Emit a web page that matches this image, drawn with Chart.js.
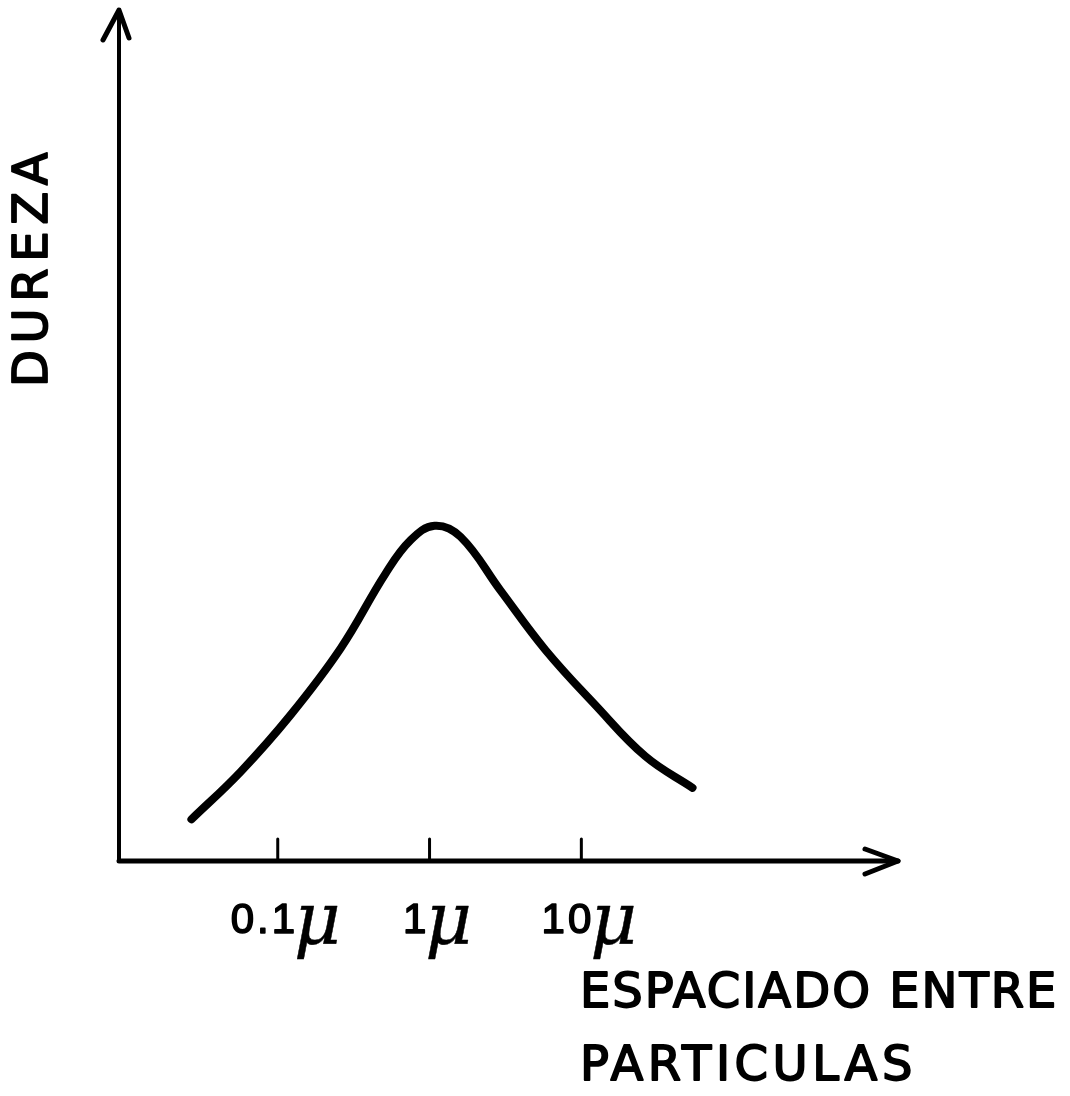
<!DOCTYPE html>
<html>
<head>
<meta charset="utf-8">
<script src="https://cdn.jsdelivr.net/npm/chart.js@4.4.1/dist/chart.umd.min.js"></script>
<style>
  body { margin: 0; background: #fff; }
  canvas { display: block; }
</style>
</head>
<body>
<canvas id="dureza" width="1070" height="1096"></canvas>
<script>
// espaciado entre particulas (micras) vs dureza (unidades arbitrarias)
var espaciado = [0.027, 0.057, 0.122, 0.26, 0.514, 0.75, 1.08, 1.6, 2.93, 5.8, 12.4, 26.4, 54];
var dureza = [4.9, 10.5, 17.2, 25.0, 33.8, 37.7, 39.4, 38.1, 31.8, 24.8, 18.3, 12.3, 8.6];
var tickValues = [0.1, 1, 10];
var tickLabels = ['0.1', '1', '10'];
var tickUnit = 'μ';
var yTitle = 'DUREZA';
var xTitle = ['ESPACIADO ENTRE', 'PARTICULAS'];

var puntos = espaciado.map(function (v, i) {
    return { x: v, y: dureza[i] };
});

function arrow(ctx, tipX, tipY, ax, ay, bx, by) {
    ctx.beginPath();
    ctx.moveTo(ax, ay);
    ctx.lineTo(tipX, tipY);
    ctx.lineTo(bx, by);
    ctx.stroke();
}

function heavyText(ctx, txt, x, y, spacing) {
    if ('letterSpacing' in ctx) ctx.letterSpacing = spacing + 'px';
    ctx.fillText(txt, x, y);
    ctx.strokeText(txt, x, y);
    if ('letterSpacing' in ctx) ctx.letterSpacing = '0px';
}

var handAxes = {
    id: 'handAxes',
    beforeDatasetsDraw: function (chart) {
        var ctx = chart.ctx;
        var area = chart.chartArea;
        var xs = chart.scales.x;
        ctx.save();
        ctx.strokeStyle = '#000';
        ctx.fillStyle = '#000';
        ctx.lineCap = 'round';
        ctx.lineJoin = 'round';

        // ejes
        ctx.lineWidth = 4;
        ctx.beginPath();
        ctx.moveTo(area.left, area.bottom);
        ctx.lineTo(area.left, area.top);
        ctx.stroke();
        ctx.lineWidth = 5;
        ctx.beginPath();
        ctx.moveTo(area.left, area.bottom);
        ctx.lineTo(area.right, area.bottom);
        ctx.stroke();

        // flechas
        ctx.lineWidth = 5;
        arrow(ctx, area.left, area.top, area.left - 16, area.top + 30, area.left + 10, area.top + 28);
        arrow(ctx, area.right, area.bottom, area.right - 33, area.bottom - 12, area.right - 33, area.bottom + 13);

        // marcas
        ctx.lineWidth = 3;
        tickValues.forEach(function (v) {
            var px = xs.getPixelForValue(v);
            ctx.beginPath();
            ctx.moveTo(px, area.bottom - 22);
            ctx.lineTo(px, area.bottom);
            ctx.stroke();
        });

        // etiquetas de las marcas
        ctx.textBaseline = 'alphabetic';
        ctx.textAlign = 'left';
        tickValues.forEach(function (v, i) {
            var numFont = '42px "Liberation Sans", Arial, sans-serif';
            var unitFont = 'italic 72px "DejaVu Serif", serif';
            ctx.font = numFont;
            var wNum = ctx.measureText(tickLabels[i]).width + tickLabels[i].length * 3;
            ctx.font = unitFont;
            var wUnit = ctx.measureText(tickUnit).width;
            var cx = xs.getPixelForValue(v) + 10;
            var start = cx - (wNum + wUnit) / 2;
            ctx.font = numFont;
            ctx.lineWidth = 1.6;
            heavyText(ctx, tickLabels[i], start, 933, 3);
            ctx.font = unitFont;
            ctx.lineWidth = 0.5;
            heavyText(ctx, tickUnit, start + wNum - 4, 944, 0);
        });

        // titulos
        ctx.font = '48px "DejaVu Sans", sans-serif';
        ctx.lineWidth = 1.8;
        heavyText(ctx, xTitle[0], 580, 1007, 2);
        heavyText(ctx, xTitle[1], 580, 1080, 4.5);

        ctx.translate(47, 387);
        ctx.rotate(-Math.PI / 2);
        heavyText(ctx, yTitle, 0, 0, 6.6);
        ctx.restore();
    }
};

new Chart(document.getElementById('dureza'), {
    type: 'scatter',
    data: {
        datasets: [{
            data: puntos,
            showLine: true,
            borderColor: '#000',
            borderWidth: 8,
            borderCapStyle: 'round',
            borderJoinStyle: 'round',
            pointRadius: 0,
            tension: 0.4,
            clip: false
        }]
    },
    options: {
        responsive: false,
        animation: false,
        layout: {
            padding: { left: 119, top: 10, right: 172, bottom: 235 }
        },
        plugins: {
            legend: { display: false },
            tooltip: { enabled: false }
        },
        scales: {
            x: { type: 'logarithmic', min: 0.009, max: 1219, display: false },
            y: { type: 'linear', min: 0, max: 100, display: false }
        }
    },
    plugins: [handAxes]
});
</script>
</body>
</html>
